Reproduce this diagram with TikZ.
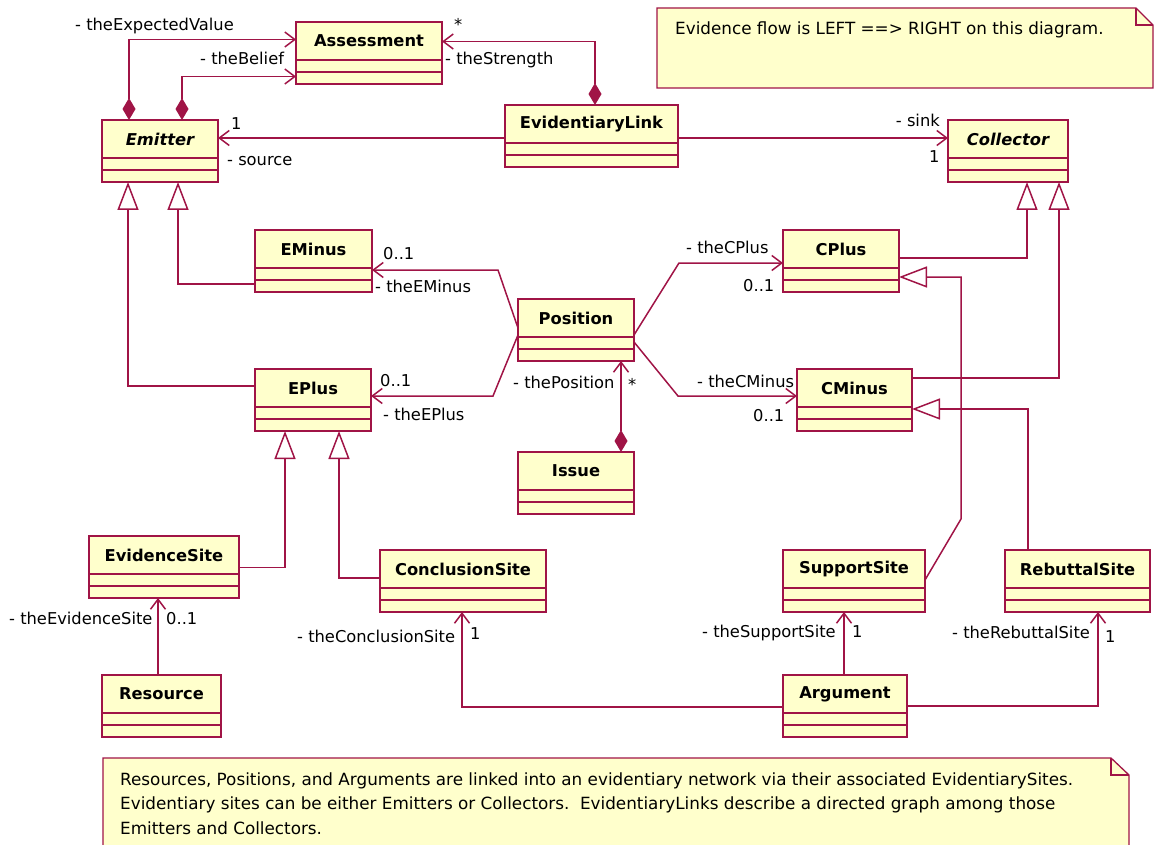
\documentclass[tikz,border=0pt]{standalone}
\usepackage{fontspec}
\setmainfont{DejaVu Sans}
\usetikzlibrary{arrows.meta}
\definecolor{umlline}{RGB}{160,20,70}
\definecolor{umlfill}{RGB}{255,255,204}
\tikzset{
 classbox/.style={draw=umlline, fill=umlfill, line width=1.3pt, minimum height=62pt, inner sep=0pt, outer sep=0pt},
 compline/.style={draw=umlline, line width=1.3pt},
 ctitle/.style={font=\fontsize{16.3pt}{20pt}\selectfont\bfseries, inner sep=0pt},
 lbl/.style={font=\fontsize{16.3pt}{20pt}\selectfont, inner sep=0pt},
 notetext/.style={font=\fontsize{16.8pt}{20pt}\selectfont, inner sep=0pt},
 conn/.style={draw=umlline, line width=1.5pt},
 assoc/.style={conn, -{Straight Barb[length=10pt,width=15pt]}},
 compo/.style={conn, {Diamond[length=22pt,width=13pt]}-{Straight Barb[length=10pt,width=15pt]}},
 gen/.style={conn, -{Triangle[open,length=28pt,width=21pt]}},
 notebox/.style={draw=umlline, fill=umlfill, line width=1.3pt},
}
\newcommand{\umlclass}[5]{%
 \node[classbox, minimum width=#4pt, anchor=north west] (#1) at (#2,#3) {};
 \draw[compline] ([yshift=-38pt]#1.north west) -- ([yshift=-38pt]#1.north east);
 \draw[compline] ([yshift=-50pt]#1.north west) -- ([yshift=-50pt]#1.north east);
 \node[ctitle] (#1-t) at ([yshift=-19pt]#1.north) {#5};
}
\begin{document}
\begin{tikzpicture}[x=1pt,y=-1pt]
\useasboundingbox (0,0) rectangle (1154,845);
\clip (0,0) rectangle (1154,845);

% notes
\path[notebox] (657,8) -- (1136,8) -- (1153,25) -- (1153,88) -- (657,88) -- cycle;
\draw[compline] (1136,8) -- (1136,25) -- (1153,25);
\node[notetext, anchor=base west] (note1) at (675,35) {Evidence flow is LEFT ==> RIGHT on this diagram.};

\path[notebox] (103,758) -- (1111,758) -- (1129,775) -- (1129,870) -- (103,870) -- cycle;
\draw[compline] (1111,758) -- (1111,775) -- (1129,775);
\node[notetext, anchor=base west] (note2a) at (120,785) {Resources, Positions, and Arguments are linked into an evidentiary network via their associated EvidentiarySites.};
\node[notetext, anchor=base west] (note2b) at (120,809) {Evidentiary sites can be either Emitters or Collectors.\ \ EvidentiaryLinks describe a directed graph among those};
\node[notetext, anchor=base west] (note2c) at (120,834) {Emitters and Collectors.};

% classes
\umlclass{Assessment}{296}{22}{146}{Assessment}
\umlclass{Emitter}{102}{120}{116}{\itshape Emitter}
\umlclass{EvidentiaryLink}{505}{105}{173}{EvidentiaryLink}
\umlclass{Collector}{948}{120}{120}{\itshape Collector}
\umlclass{EMinus}{255}{230}{117}{EMinus}
\umlclass{CPlus}{783}{230}{116}{CPlus}
\umlclass{Position}{518}{299}{116}{Position}
\umlclass{EPlus}{255}{369}{116}{EPlus}
\umlclass{CMinus}{797}{369}{115}{CMinus}
\umlclass{Issue}{518}{452}{116}{Issue}
\umlclass{EvidenceSite}{89}{536}{150}{EvidenceSite}
\umlclass{ConclusionSite}{380}{550}{166}{ConclusionSite}
\umlclass{SupportSite}{783}{550}{142}{SupportSite}
\umlclass{RebuttalSite}{1005}{550}{145}{RebuttalSite}
\umlclass{Argument}{783}{675}{124}{Argument}
\umlclass{Resource}{102}{675}{119}{Resource}

% compositions
\draw[compo] ([xshift=-31pt]Emitter.north) |- ([yshift=13.5pt]Assessment.west);
\draw[compo] ([xshift=22pt]Emitter.north) |- ([yshift=-23.5pt]Assessment.west);
\draw[compo] ([xshift=3.5pt]EvidentiaryLink.north) |- ([yshift=11.5pt]Assessment.east);
\draw[compo] ([xshift=45pt]Issue.north) -- ([xshift=45pt]Position.south);

% associations
\draw[assoc] ([yshift=-2pt]EvidentiaryLink.west) -- ([yshift=13pt]Emitter.east);
\draw[assoc] ([yshift=-2pt]EvidentiaryLink.east) -- ([yshift=13pt]Collector.west);
\draw[assoc] ([yshift=2pt]Position.west) -- (498,270) -- ([yshift=-9pt]EMinus.east);
\draw[assoc] ([yshift=-5pt]Position.west) -- (493,396) -- ([yshift=4pt]EPlus.east);
\draw[assoc] ([yshift=-5pt]Position.east) -- (679,263) -- ([yshift=-2pt]CPlus.west);
\draw[assoc] ([yshift=-12pt]Position.east) -- (678,396) -- ([yshift=4pt]CMinus.west);
\draw[assoc] ([xshift=-3.5pt]Resource.north) -- ([xshift=-6pt]EvidenceSite.south);
\draw[assoc] ([yshift=-1pt]Argument.west) -| ([xshift=-1pt]ConclusionSite.south);
\draw[assoc] ([xshift=-1pt]Argument.north) -- ([xshift=-10pt]SupportSite.south);
\draw[assoc] (Argument.east) -| ([xshift=20.5pt]RebuttalSite.south);

% generalizations
\draw[gen] ([yshift=-23pt]EMinus.west) -| ([xshift=18pt]Emitter.south);
\draw[gen] ([yshift=14pt]EPlus.west) -| ([xshift=-32pt]Emitter.south);
\draw[gen] ([yshift=3pt]CPlus.east) -| ([xshift=19pt]Collector.south);
\draw[gen] ([yshift=22pt]CMinus.east) -| ([xshift=51pt]Collector.south);
\draw[gen] ([yshift=1pt]SupportSite.east) -- (961,519) |- ([yshift=-16pt]CPlus.east);
\draw[gen] ([xshift=-49.5pt]RebuttalSite.north) |- ([yshift=-9pt]CMinus.east);
\draw[gen] ([yshift=-0.5pt]EvidenceSite.east) -| ([xshift=-28pt]EPlus.south);
\draw[gen] ([yshift=3pt]ConclusionSite.west) -| ([xshift=26pt]EPlus.south);

% labels
\node[lbl, anchor=base west] (l1) at (75,31) {- theExpectedValue};
\node[lbl, anchor=base west] (l2) at (200,65) {- theBelief};
\node[lbl, anchor=base west] (l3) at (454,31) {*};
\node[lbl, anchor=base west] (l4) at (445,65) {- theStrength};
\node[lbl, anchor=base west] (l5) at (231,130) {1};
\node[lbl, anchor=base west] (l6) at (227,166) {- source};
\node[lbl, anchor=base east] (l7) at (940,127) {- sink};
\node[lbl, anchor=base west] (l8) at (929,163) {1};
\node[lbl, anchor=base west] (l9) at (383,259) {0..1};
\node[lbl, anchor=base west] (l10) at (375,292) {- theEMinus};
\node[lbl, anchor=base west] (l11) at (380,386) {0..1};
\node[lbl, anchor=base west] (l12) at (383,420) {- theEPlus};
\node[lbl, anchor=base west] (l13) at (513,388) {- thePosition};
\node[lbl, anchor=base west] (l14) at (628,390) {*};
\node[lbl, anchor=base west] (l15) at (686,254) {- theCPlus};
\node[lbl, anchor=base west] (l16) at (743,291) {0..1};
\node[lbl, anchor=base west] (l17) at (697,387) {- theCMinus};
\node[lbl, anchor=base west] (l18) at (753,421) {0..1};
\node[lbl, anchor=base west] (l19) at (9,624) {- theEvidenceSite};
\node[lbl, anchor=base west] (l20) at (166,624) {0..1};
\node[lbl, anchor=base west] (l21) at (297,642) {- theConclusionSite};
\node[lbl, anchor=base west] (l22) at (470,639) {1};
\node[lbl, anchor=base west] (l23) at (702,637) {- theSupportSite};
\node[lbl, anchor=base west] (l24) at (852,637) {1};
\node[lbl, anchor=base west] (l25) at (952,638) {- theRebuttalSite};
\node[lbl, anchor=base west] (l26) at (1105,642) {1};
\end{tikzpicture}
\end{document}
